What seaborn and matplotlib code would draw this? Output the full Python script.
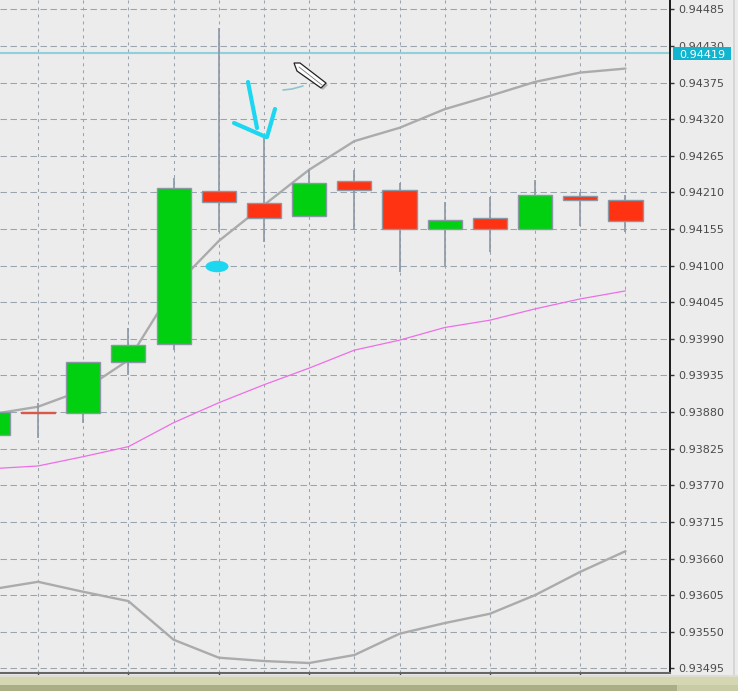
import matplotlib.pyplot as plt
import numpy as np
import seaborn as sns
from matplotlib.patches import Ellipse, Polygon, Rectangle

# velas, de la 0 (cortada por el borde izquierdo) a la 14
bar_index = list(range(15))
opens = [0.93846, 0.93880, 0.93878, 0.93955, 0.93982, 0.94212, 0.94194, 0.94175,
         0.94227, 0.94214, 0.94155, 0.94172, 0.94155, 0.94205, 0.94199]
closes = [0.93880, 0.93878, 0.93955, 0.93980, 0.94217, 0.94196, 0.94171, 0.94224,
          0.94214, 0.94155, 0.94169, 0.94155, 0.94206, 0.94199, 0.94167]
highs = [0.93880, 0.93894, 0.93955, 0.94007, 0.94232, 0.94457, 0.94292, 0.94244,
         0.94244, 0.94224, 0.94196, 0.94203, 0.94229, 0.94211, 0.94206]
lows = [0.93846, 0.93841, 0.93864, 0.93936, 0.93973, 0.94151, 0.94136, 0.94175,
        0.94154, 0.94091, 0.94100, 0.94121, 0.94155, 0.94160, 0.94151]

# bandas
upper_band = [0.93877, 0.93888, 0.93913, 0.93958, 0.94067, 0.94137, 0.94191, 0.94244,
              0.94287, 0.94307, 0.94335, 0.94355, 0.94376, 0.94390, 0.94396]
middle_band = [0.93795, 0.93799, 0.93813, 0.93828, 0.93864, 0.93894, 0.93921, 0.93946,
               0.93973, 0.93988, 0.94007, 0.94018, 0.94035, 0.94050, 0.94062]
lower_band = [0.93614, 0.93625, 0.93610, 0.93596, 0.93538, 0.93511, 0.93506, 0.93503,
              0.93515, 0.93547, 0.93563, 0.93577, 0.93605, 0.93640, 0.93671]

current_price = 0.94419
current_label = "0.94419"
price_ticks = [0.94485, 0.94430, 0.94375, 0.94320, 0.94265, 0.94210, 0.94155, 0.94100, 0.94045,
               0.93990, 0.93935, 0.93880, 0.93825, 0.93770, 0.93715, 0.93660, 0.93605, 0.93550, 0.93495]
price_labels = ["0.94485", "0.94430", "0.94375", "0.94320", "0.94265", "0.94210", "0.94155",
                "0.94100", "0.94045", "0.93990", "0.93935", "0.93880", "0.93825", "0.93770",
                "0.93715", "0.93660", "0.93605", "0.93550", "0.93495"]

BG = "#ECECEC"
GRID = "#9AA4AE"
WICK = "#8A97A5"
GREEN = "#00D010"
RED = "#FF3212"
CYAN = "#1DD6F0"

sns.set_style("white")
plt.rcParams["font.family"] = ["DejaVu Sans"]

W, H = 738, 691
fig = plt.figure(figsize=(W / 100, H / 100), dpi=100, facecolor=BG)
ax = fig.add_axes([0, (H - 673) / H, 670 / W, 673 / H], facecolor=BG)

# rejilla
ax.set_axisbelow(True)
ax.set_xticks(bar_index[1::2])
ax.set_xticks(bar_index[0::2], minor=True)
ax.set_yticks(price_ticks)
ax.set_yticklabels(price_labels)
ax.xaxis.grid(True, which="both", color=GRID, lw=0.75, ls=(0, (2.9, 3.8)))
ax.yaxis.grid(True, color=GRID, lw=0.75, ls=(0, (6.2, 3.4)))
ax.tick_params(axis="x", which="major", bottom=True, length=2, width=1, color="#444444", labelbottom=False)
ax.tick_params(axis="x", which="minor", bottom=False, labelbottom=False)
ax.yaxis.tick_right()
ax.tick_params(axis="y", right=True, length=3, width=1, color="#333333", labelsize=8, labelcolor="#4A4A4A", pad=3)

ax.axhline(current_price, color="#8FD0DC", lw=1.5, zorder=1.5)

# bandas con seaborn
sns.lineplot(x=bar_index, y=upper_band, ax=ax, color="#ABABAB", lw=1.7, zorder=2)
sns.lineplot(x=bar_index, y=middle_band, ax=ax, color="#EE6EE8", lw=0.9, zorder=2)
sns.lineplot(x=bar_index, y=lower_band, ax=ax, color="#ABABAB", lw=1.7, zorder=2)

# velas
ax.vlines(bar_index, lows, highs, color=WICK, lw=1.2, zorder=3)
for i, o, c in zip(bar_index, opens, closes):
    body = abs(c - o)
    ax.bar(i, body, bottom=min(o, c), width=0.755, color=GREEN if c > o else RED,
           edgecolor=WICK if body > 0.00003 else "#D9584A", linewidth=1, zorder=4)

# los limites van despues de los ticks, que si no los ensanchan
ax.set_xlim(0.159, 14.985)
ax.set_ylim(0.93488, 0.94499)

for side in ["top", "left"]:
    ax.spines[side].set_visible(False)
ax.spines["right"].set_color("#1A1A1A")
ax.spines["right"].set_linewidth(1.4)
ax.spines["bottom"].set_color("#666666")
ax.spines["bottom"].set_linewidth(1.5)

# capa en pixeles: garabatos a mano, etiqueta de precio y barras de la ventana
over = fig.add_axes([0, 0, 1, 1], facecolor="none")
over.set_xlim(0, W)
over.set_ylim(H, 0)
over.axis("off")

over.add_patch(Rectangle((673, 47), 58, 12.5, color="#12B5CF", lw=0))
over.text(679, 53.5, current_label, color="white", fontsize=8, va="center_baseline", ha="left")

over.plot([248, 257], [82, 128], color=CYAN, lw=3, solid_capstyle="round")
over.plot([234, 266], [123, 137], color=CYAN, lw=3, solid_capstyle="round")
over.plot([275, 267], [109, 137], color=CYAN, lw=3, solid_capstyle="round")
over.add_patch(Ellipse((217, 266.5), 23, 11.5, color=CYAN, lw=0))
over.plot([283, 292, 303], [90, 89, 86], color="#8CC6CE", lw=1.2, solid_capstyle="round")

# lapiz
over.add_patch(Polygon([(296, 65), (302, 65), (328, 85), (323, 90), (299, 73)], color="#B5B5B5", lw=0))
over.add_patch(Polygon([(294, 63), (300, 63), (326, 83), (321, 88), (297, 71)], facecolor="white",
                       edgecolor="#222222", lw=0.9))
over.plot([299, 322], [67, 85], color="#777777", lw=0.6)

# parte inferior y derecha de la ventana
over.add_patch(Rectangle((0, 675), W, 3, color="#DDDDD0", lw=0))
over.add_patch(Rectangle((0, 677), W, 8, color="#D5D7B2", lw=0))
over.add_patch(Rectangle((0, 685), 677, 6, color="#ABAE84", lw=0))
over.add_patch(Rectangle((677, 685), W - 677, 6, color="#C8CBA4", lw=0))
over.add_patch(Rectangle((733, 0), 2, 675, color="#D6D6D6", lw=0))

fig.savefig("out.png", dpi=100, facecolor=BG)
